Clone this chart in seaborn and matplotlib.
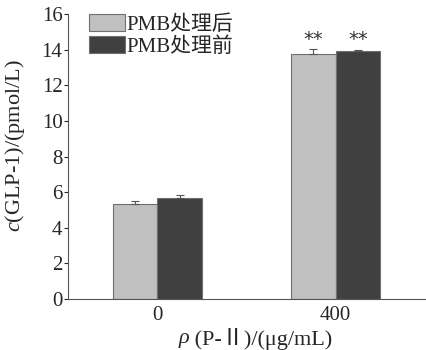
import numpy as np
import pandas as pd
import matplotlib
matplotlib.use("Agg")
import matplotlib.pyplot as plt
import seaborn as sns

# data
doses = ["0", "400"]
groups = ["PMB处理后", "PMB处理前"]
after_vals = [5.31, 13.75]
before_vals = [5.65, 13.92]
after_err = [0.17, 0.28]
before_err = [0.17, 0.07]
sig_labels = ["**", "**"]

colors = ["#c0c0c0", "#404040"]

sns.set_style("ticks")
plt.rcParams["font.family"] = ["Liberation Serif", "Noto Sans CJK SC"]
plt.rcParams["mathtext.fontset"] = "custom"
plt.rcParams["mathtext.it"] = "Liberation Serif:italic"
plt.rcParams["mathtext.rm"] = "Liberation Serif"

df = pd.DataFrame({
    "dose": doses * 2,
    "group": [groups[0]] * 2 + [groups[1]] * 2,
    "value": after_vals + before_vals,
})

fig = plt.figure(figsize=(4.27, 3.5), dpi=100)
ax = fig.add_axes([68 / 427, 1 - 299 / 350, 357 / 427, 285 / 350])

sns.barplot(data=df, x="dose", y="value", hue="group", order=doses,
            hue_order=groups, palette=colors, width=0.5, ax=ax,
            edgecolor="#707070", linewidth=0.8, errorbar=None)

# error bars and significance marks
bar_conts = list(ax.containers)
for i, cont in enumerate(bar_conts):
    e = after_err if i == 0 else before_err
    for j, bar in enumerate(cont.patches):
        xc = bar.get_x() + bar.get_width() / 2
        top = bar.get_height()
        ax.errorbar(xc, top, yerr=[[0], [e[j]]], fmt="none", ecolor="#555555",
                    elinewidth=0.8, capsize=3, capthick=0.8)
        if doses[j] == "400":
            ax.text(xc, top + e[j] + 0.02, sig_labels[i], ha="center", va="bottom",
                    fontsize=14, color="#333333", family="DejaVu Sans")

ax.set_xlim(-0.5, 1.5)
ax.set_ylim(0, 16)
ax.set_yticks(range(0, 17, 2))
ax.tick_params(axis="y", direction="out", length=3, width=0.8, labelsize=15, pad=1)
ax.tick_params(axis="x", length=0, labelsize=15, pad=5)
for s in ["top", "right"]:
    ax.spines[s].set_visible(False)
for s in ["left", "bottom"]:
    ax.spines[s].set_color("#555555")
    ax.spines[s].set_linewidth(0.8)

ax.set_ylabel(r"$\it{c}$(GLP-1)/(pmol/L)", fontsize=16)
ax.yaxis.set_label_coords(-0.115, 0.54)
ax.set_xlabel(" (P-Ⅱ)/(μg/mL)", fontsize=16)
ax.xaxis.set_label_coords(0.54, -0.10)
# italic rho in front of the x label
ax.annotate("ρ", xy=(0, 0.5), xycoords=ax.xaxis.label, ha="right", va="center",
            fontsize=16, style="italic", family="Liberation Serif")

ax.legend(loc="upper left", bbox_to_anchor=(0.035, 1.03), frameon=False,
          fontsize=15, handlelength=1.75, handleheight=0.9, handletextpad=0.05,
          labelspacing=0.05, borderaxespad=0)

fig.savefig("out.png", dpi=100)
